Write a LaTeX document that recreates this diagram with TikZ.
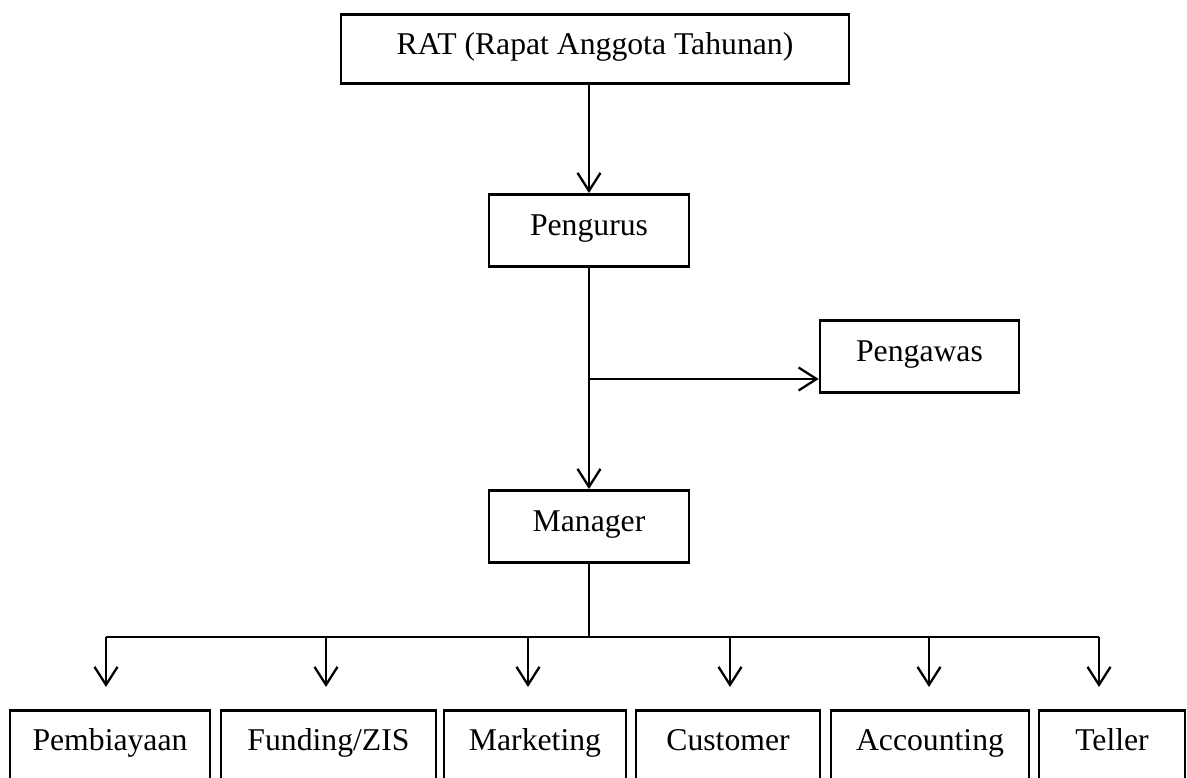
\documentclass[tikz,border=0pt]{standalone}
\usepackage{fontspec}
\setmainfont{Liberation Serif}
\usetikzlibrary{arrows.meta}
\begin{document}
\begin{tikzpicture}[x=1pt,y=-1pt,
  every node/.style={font=\fontsize{31.7}{38}\selectfont},
  box/.style={draw, line width=2.6pt, inner xsep=0pt, inner ysep=0pt, anchor=north, text height=41pt, text depth=31pt},
  lowbox/.style={box, text height=40pt, text depth=80pt},
  arr/.style={line width=2.3pt, -{Straight Barb[length=18pt,width=23pt,line width=2.3pt]}},
  bus/.style={line width=1.1pt}]
\useasboundingbox (0,0) rectangle (1187,778);
\clip (0,0) rectangle (1187,778);
% top level
\node[box, minimum width=508pt, text height=40pt, text depth=29pt] (rat) at (595,13) {RAT (Rapat Anggota Tahunan)};
\node[box, minimum width=200pt] (pen) at (589,193) {Pengurus};
\node[box, minimum width=199pt] (pgw) at (919.5,319) {Pengawas};
\node[box, minimum width=200pt] (man) at (589,489) {Manager};
% bottom row
\node[lowbox, minimum width=200pt] (pem) at (110,709) {Pembiayaan};
\node[lowbox, minimum width=215pt] (fun) at (328.5,709) {Funding/ZIS};
\node[lowbox, minimum width=182pt] (mar) at (535,709) {Marketing};
\node[lowbox, minimum width=184pt] (cus) at (728,709) {Customer};
\node[lowbox, minimum width=198pt] (acc) at (930,709) {Accounting};
\node[lowbox, minimum width=146pt] (tel) at (1112,709) {Teller};
% connectors
\draw[arr] (rat.south -| pen.north) -- (pen.north);
\draw[arr] (pen.south) -- (man.north);
\coordinate (br) at (589,379);
\draw[arr] (br) -- (br -| pgw.west);
\coordinate (bus) at (589,637);
\coordinate (b1) at (106,637);
\coordinate (b2) at (326,637);
\coordinate (b3) at (528,637);
\coordinate (b4) at (730,637);
\coordinate (b5) at (929,637);
\coordinate (b6) at (1099,637);
\draw[bus] (man.south) -- (bus);
\draw[bus] (b1) -- (b6);
\draw[arr, shorten >=22pt] (b1) -- (b1 |- pem.north);
\draw[arr, shorten >=22pt] (b2) -- (b2 |- fun.north);
\draw[arr, shorten >=22pt] (b3) -- (b3 |- mar.north);
\draw[arr, shorten >=22pt] (b4) -- (b4 |- cus.north);
\draw[arr, shorten >=22pt] (b5) -- (b5 |- acc.north);
\draw[arr, shorten >=22pt] (b6) -- (b6 |- tel.north);
\end{tikzpicture}
\end{document}
